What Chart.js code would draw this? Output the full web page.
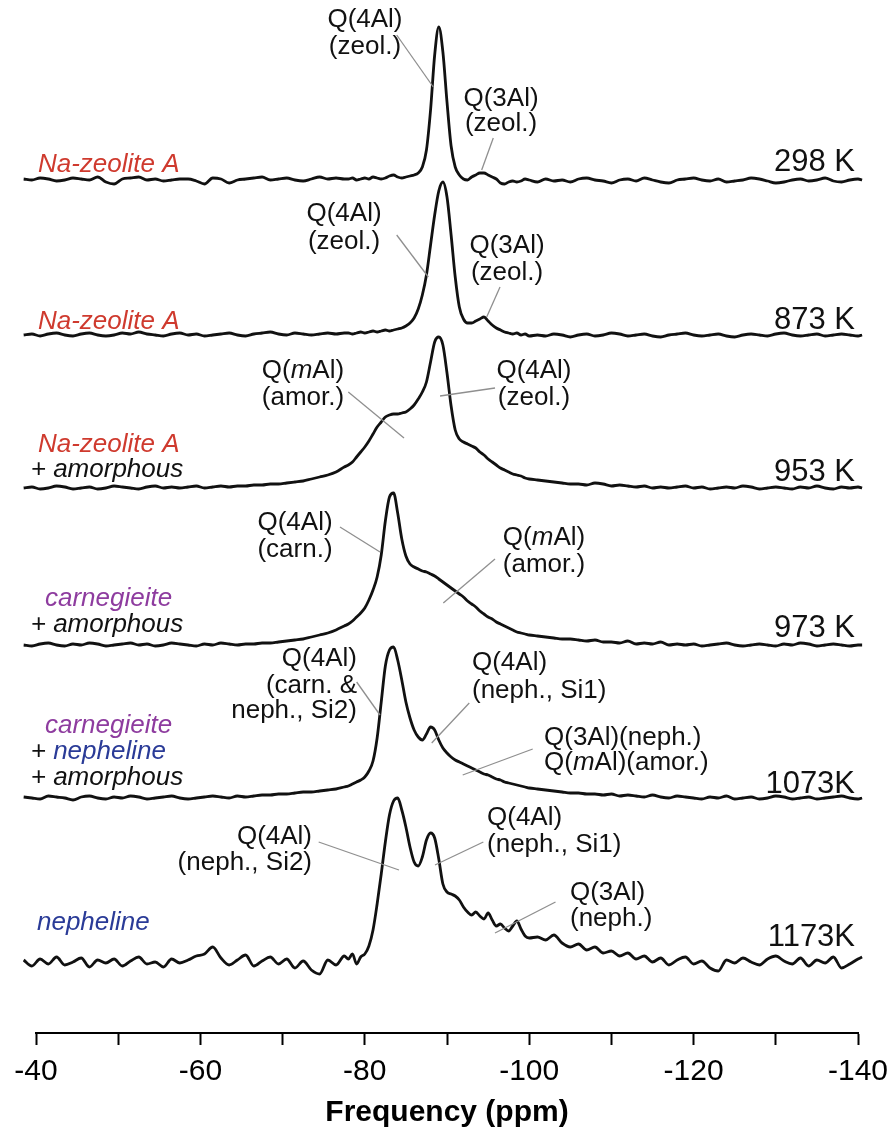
<!DOCTYPE html>
<html>
<head>
<meta charset="utf-8">
<script src="https://cdn.jsdelivr.net/npm/chart.js@4.4.1/dist/chart.umd.min.js"></script>
<style>
  html, body { margin: 0; padding: 0; background: #fff; }
  #wrap { width: 887px; height: 1131px; }
</style>
</head>
<body>
<div id="wrap"><canvas id="nmr" width="887" height="1131"></canvas></div>
<script>
// 29Si MAS NMR stack - Na-zeolite A heated series

// --- DATA ---
const ppm = [
  -38.5,-39.5,-40.5,-41.5,-42.5,-43.5,-44.5,-45.5,-46.5,-47.5,
  -48.5,-49.5,-50.5,-51.5,-52.5,-53.5,-54.5,-55.5,-56.5,-57.5,
  -58.5,-59.5,-60.5,-61.5,-62.5,-63.5,-64.5,-65.5,-66.5,-67.5,
  -68.5,-69.5,-70.5,-71.5,-72.5,-73.5,-74.5,-75.5,-76.5,-77.5,
  -78,-78.5,-79,-79.5,-80,-80.5,-81,-81.5,-82,-82.5,
  -83,-83.5,-84,-84.5,-85,-85.5,-86,-86.5,-87,-87.5,
  -88,-88.5,-89,-89.5,-90,-90.5,-91,-91.5,-92,-92.5,
  -93,-93.5,-94,-94.5,-95,-95.5,-96,-96.5,-97,-97.5,
  -98,-98.5,-99,-99.5,-100,
  -101,-102,-103,-104,-105,-106,-107,-108,-109,-110,
  -111,-112,-113,-114,-115,-116,-117,-118,-119,-120,
  -121,-122,-123,-124,-125,-126,-127,-128,-129,-130,
  -131,-132,-133,-134,-135,-136,-137,-138,-139,-140,
  -140.5
];

const temps = ['298 K', '873 K', '953 K', '973 K', '1073K', '1173K'];
const offsets = [853, 698, 545, 388, 235, 71];   // vertical stacking of the traces
const tickLabels = [-40, -60, -80, -100, -120, -140];

const s298 = [
  1,0,2,1,-1,0,2,1,0,3, -2,-4,1,2,3,0,1,-1,0,1, 1,-1,-4,2,1,-3,0,1,2,3, 0,1,2,0,-1,1,3,1,2,1,
  1,2,0,1,2,1,3,2,1,2, 4,5,3,2,3,4,5,7,13,30, 70,125,153,128,78,34,13,5,1,0, 3,5,7,7,5,3,1,-3,-4,-2, -1,-2,-1,1,0,
  -2,1,-1,0,-2,1,2,0,-1,-3, 0,1,-1,2,0,-2,-3,0,1,2, 0,-1,1,-2,-1,0,2,1,-1,-3, -2,0,1,-1,0,2,-1,-2,0,1, 0
];
const s873 = [
  0,1,-1,1,2,0,-1,1,2,0, -1,0,2,1,3,1,0,-1,1,2, 0,1,-1,0,1,2,0,-1,1,2, 3,1,0,2,1,0,1,2,1,2,
  2,1,2,3,2,3,4,3,4,5, 4,5,6,7,9,12,17,26,40,60, 90,120,144,153,138,100,58,28,16,12, 12,14,16,18,14,10,7,5,3,2, 1,2,0,1,-1,
  0,-1,1,0,-2,0,1,-1,0,2, 1,-1,0,1,-1,-2,0,1,2,0, -1,0,1,-1,-2,0,1,0,-1,1, 2,0,-1,0,1,-1,0,1,0,-1, 0
];
const s953 = [
  0,1,-1,0,2,1,-1,0,1,-1, 0,2,1,0,-1,1,2,0,1,0, 1,2,0,1,2,1,2,2,3,3, 4,4,5,6,7,9,11,13,16,21,
  23,26,31,36,41,47,54,61,66,71, 73,74,74,75,76,79,83,89,96,106, 126,146,151,143,115,82,58,49,46,44, 42,40,36,33,29,26,23,20,18,16, 14,13,12,10,9,
  8,7,6,5,4,4,3,5,4,2, 3,2,1,2,0,1,0,1,2,0, 1,-1,0,1,0,2,1,-1,0,1, 0,-1,1,0,2,0,-1,1,0,1, 0
];
const s973 = [
  0,-1,1,2,0,-1,1,0,2,1, -1,0,1,2,0,1,-1,0,2,1, 0,-1,1,0,2,1,0,1,1,2, 2,3,4,5,6,8,10,12,15,19,
  21,24,28,32,37,45,55,68,90,124, 148,152,132,106,89,81,78,76,74,73, 71,69,66,63,60,57,54,51,48,44, 41,38,34,31,28,26,23,21,19,17, 15,13,12,11,10,
  9,8,7,6,6,5,4,5,3,3, 2,4,1,2,1,3,0,1,0,1, -1,0,1,2,0,-1,0,1,0,-1, 1,0,2,1,-1,0,1,0,-1,0, 0
];
const s1073 = [
  1,0,-1,2,1,0,-2,1,2,0, -1,1,0,2,1,-1,0,1,2,0, -1,0,1,2,1,0,2,1,2,3, 3,4,4,5,6,6,7,8,9,11,
  12,14,16,18,21,27,37,60,96,132, 148,151,138,118,96,80,68,61,58,64, 71,68,58,50,45,41,38,36,34,32, 30,28,26,24,23,21,19,18,16,15, 14,13,12,11,10,
  9,8,7,6,5,5,4,4,3,4, 2,3,2,1,3,1,0,2,1,0, -1,1,0,2,-1,0,1,-1,0,2, 1,-1,0,1,-1,0,1,2,0,-1, 0
];
const s1173 = [
  2,-4,3,-2,5,-3,0,4,-5,2, -1,3,-4,1,5,-2,0,-5,3,-1, 2,6,8,15,4,-3,2,7,-4,1, 5,-2,3,-6,1,-8,-12,2,-3,6,
  3,8,-2,5,8,16,32,58,88,120, 147,161,164,152,135,115,100,96,105,122, 129,124,103,78,70,68,66,62,55,50, 47,50,46,43,49,42,36,38,34,31, 36,41,33,26,24,
  25,22,27,19,15,18,12,15,9,11, 6,9,3,6,0,4,-3,2,5,-2, 1,-6,-9,2,-1,4,0,-3,3,6, 1,-2,4,-4,2,-1,5,-6,-2,3, 5
];
const spectra = [s298, s873, s953, s973, s1073, s1173];

// --- LABELS ---
const RED = '#cf3a2e', PURPLE = '#8e3c9f', BLUE = '#2a3b97', INK = '#111';

// sample names: [ppm, level, [[text, colour], ...]]
const sampleNames = [
  [-40.24, 861, [['Na-zeolite A', RED]]],
  [-40.24, 704, [['Na-zeolite A', RED]]],
  [-40.24, 581, [['Na-zeolite A', RED]]],
  [-39.36, 556, [['+ amorphous', INK]]],
  [-41.09, 427, [['carnegieite', PURPLE]]],
  [-39.36, 401, [['+ amorphous', INK]]],
  [-41.09, 300, [['carnegieite', PURPLE]]],
  [-39.36, 274, [['+ ', INK], ['nepheline', BLUE]]],
  [-39.36, 248, [['+ amorphous', INK]]],
  [-40.12, 103, [['nepheline', BLUE]]]
];
const tempLevels = [862, 704, 552, 396, 240, 87];

// peak notes: lines (_x_ = italic), align, ppm, row levels, leader [ppm1, lvl1, ppm2, lvl2]
const peakNotes = [
  [['Q(4Al)', '(zeol.)'], 'center', -80.02, [1013, 986], [-83.88, 998, -88.33, 946]],
  [['Q(3Al)', '(zeol.)'], 'center', -96.57, [934, 909], [-95.63, 895, -94.22, 863]],
  [['Q(4Al)', '(zeol.)'], 'center', -77.47, [819, 791], [-83.88, 798, -87.73, 756]],
  [['Q(3Al)', '(zeol.)'], 'center', -97.3, [787, 760], [-96.45, 746, -94.83, 716]],
  [['Q(_m_Al)', '(amor.)'], 'center', -72.48, [662, 635], [-77.99, 641, -84.77, 595]],
  [['Q(4Al)', '(zeol.)'], 'center', -100.58, [662, 635], [-95.84, 645, -89.15, 637]],
  [['Q(4Al)', '(carn.)'], 'center', -71.51, [510, 483], [-76.98, 506, -81.85, 481]],
  [['Q(_m_Al)', '(amor.)'], 'center', -101.8, [495, 468], [-95.84, 474, -89.55, 430]],
  [['Q(4Al)', '(carn. &', 'neph., Si2)'], 'right', -79.05, [374, 347, 322], [-79.01, 351, -81.85, 318]],
  [['Q(4Al)', '(neph., Si1)'], 'left', -93.04, [370, 342], [-92.71, 330, -88.14, 290]],
  [['Q(3Al)(neph.)', 'Q(_m_Al)(amor.)'], 'left', -101.8, [295, 270], [-100.43, 284, -91.91, 258]],
  [['Q(4Al)', '(neph., Si2)'], 'right', -73.58, [196, 170], [-74.39, 191, -84.16, 163]],
  [['Q(4Al)', '(neph., Si1)'], 'left', -94.87, [215, 188], [-94.42, 191, -88.54, 168]],
  [['Q(3Al)', '(neph.)'], 'left', -104.96, [140, 114], [-103.2, 131, -95.84, 100]]
];

const FAMILY = '"Liberation Sans", Arial, Helvetica, sans-serif';

// --- HELPERS ---
function drawRich(ctx, segs, x, y, align) {
  let total = 0;
  segs.forEach(s => { ctx.font = s.font; s.w = ctx.measureText(s.t).width; total += s.w; });
  let cx = align === 'right' ? x - total : align === 'center' ? x - total / 2 : x;
  segs.forEach(s => {
    ctx.font = s.font;
    ctx.fillStyle = s.c;
    ctx.fillText(s.t, cx, y);
    cx += s.w;
  });
}

function noteSegments(line) {
  return line.split('_').map((t, i) => ({
    t: t,
    c: INK,
    font: (i % 2 ? 'italic ' : '') + '26px ' + FAMILY
  })).filter(s => s.t.length);
}

const labelPlugin = {
  id: 'stackLabels',
  afterDatasetsDraw(chart) {
    const ctx = chart.ctx;
    const xs = chart.scales.x, ys = chart.scales.y;
    ctx.save();
    ctx.textAlign = 'left';

    // leader lines
    ctx.strokeStyle = '#8f8f8f';
    ctx.lineWidth = 1.3;
    peakNotes.forEach(n => {
      const l = n[4];
      ctx.beginPath();
      ctx.moveTo(xs.getPixelForValue(l[0]), ys.getPixelForValue(l[1]));
      ctx.lineTo(xs.getPixelForValue(l[2]), ys.getPixelForValue(l[3]));
      ctx.stroke();
    });

    // peak assignments
    ctx.textBaseline = 'middle';
    peakNotes.forEach(n => {
      n[0].forEach((line, i) => {
        drawRich(ctx, noteSegments(line), xs.getPixelForValue(n[2]), ys.getPixelForValue(n[3][i]), n[1]);
      });
    });

    // sample names
    ctx.textBaseline = 'alphabetic';
    sampleNames.forEach(s => {
      const segs = s[2].map(p => ({ t: p[0], c: p[1], font: 'italic 26px ' + FAMILY }));
      drawRich(ctx, segs, xs.getPixelForValue(s[0]), ys.getPixelForValue(s[1]), 'left');
    });

    // temperatures
    temps.forEach((t, i) => {
      drawRich(ctx, [{ t: t, c: INK, font: '31px ' + FAMILY }],
        xs.getPixelForValue(-139.64), ys.getPixelForValue(tempLevels[i]), 'right');
    });
    ctx.restore();
  }
};

// --- CHART ---
const datasets = spectra.map((vals, k) => ({
  label: temps[k],
  data: ppm.map((x, i) => ({ x: x, y: offsets[k] + vals[i] })),
  borderColor: '#111',
  borderWidth: 2.8,
  pointRadius: 0,
  cubicInterpolationMode: 'monotone',
  clip: false,
  fill: false
}));

new Chart(document.getElementById('nmr'), {
  type: 'line',
  data: { datasets: datasets },
  options: {
    responsive: false,
    animation: false,
    devicePixelRatio: 1,
    layout: { padding: { left: 36, right: 29, top: 0, bottom: 0 } },
    plugins: { legend: { display: false }, tooltip: { enabled: false } },
    scales: {
      x: {
        type: 'linear',
        min: -140,
        max: -40,
        reverse: true,
        afterFit: s => {
          s.height = 98;
          // let the end labels hang past the plot edge like the original
          s.paddingLeft = 0;
          s.paddingRight = 0;
        },
        border: { display: true, color: '#000', width: 2 },
        grid: { drawOnChartArea: false, drawTicks: true, tickLength: 12, tickColor: '#000', tickWidth: 2 },
        ticks: {
          stepSize: 10,
          autoSkip: false,
          maxRotation: 0,
          padding: 9,
          color: '#000',
          font: { family: FAMILY, size: 30 },
          callback: v => tickLabels.includes(v) ? String(v) : ''
        },
        title: {
          display: true,
          text: 'Frequency (ppm)',
          color: '#000',
          font: { family: FAMILY, size: 30, weight: 'bold' },
          padding: { top: 0, bottom: 0 }
        }
      },
      y: { type: 'linear', display: false, min: 0, max: 1033 }
    }
  },
  plugins: [labelPlugin]
});
</script>
</body>
</html>
